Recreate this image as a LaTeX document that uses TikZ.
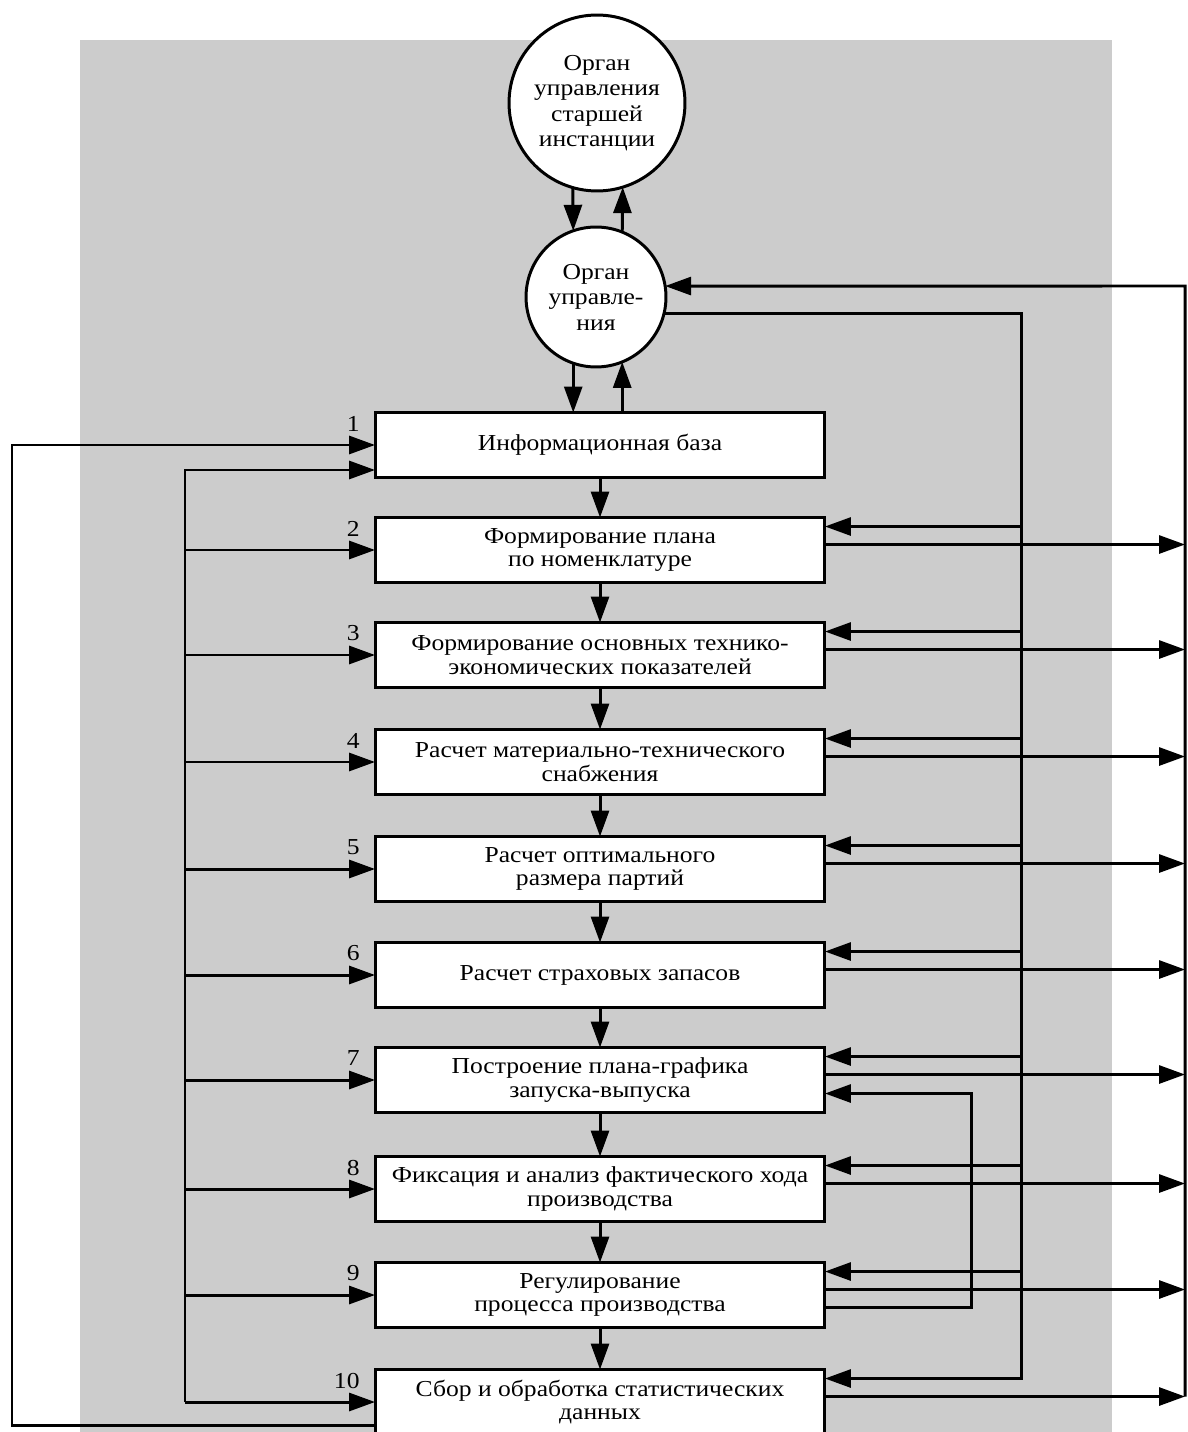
\documentclass[tikz,border=0pt]{standalone}
\usepackage{fontspec}
\setmainfont{Liberation Serif}[FakeStretch=1.12]
\usepackage{tikz}
\usetikzlibrary{arrows.meta,positioning,calc}
\definecolor{Halftone}{gray}{0.80}

\begin{document}
\begin{tikzpicture}[x=0.02cm, y=-0.02cm, line width=1.7pt,
    box/.style={draw, fill=white, minimum width=9cm, minimum height=1.3cm, inner sep=0pt, outer sep=0pt, align=center, font=\fontsize{13}{13.5}\selectfont},
    org/.style={draw, circle, fill=white, inner sep=0pt, outer sep=0pt, align=center, font=\fontsize{13}{14.5}\selectfont},
    arr/.style={-{Triangle[length=5.2mm,width=3.6mm]}},
    num/.style={anchor=east, inner sep=0pt, font=\fontsize{13}{13}\selectfont}]
    \useasboundingbox (0,0) rectangle (1187,1432);
    \fill[Halftone] (80,40) rectangle (1112,1432);

    % control bodies
    \node[org, minimum size=3.52cm] (c1) at (597,103) {Орган\\управления\\старшей\\инстанции};
    \node[org, minimum size=2.8cm] (c2) at (596,297) {Орган\\управле-\\ния};

    % planning steps
    \foreach \i/\y/\txt in {1/445/{Информационная база},
        2/550/{Формирование плана\\по номенклатуре},
        3/655/{Формирование основных технико-\\экономических показателей},
        4/762/{Расчет материально-технического\\снабжения},
        5/869/{Расчет оптимального\\размера партий},
        6/975/{Расчет страховых запасов},
        7/1080/{Построение плана-графика\\запуска-выпуска},
        8/1189/{Фиксация и анализ фактического хода\\производства},
        9/1295/{Регулирование\\процесса производства},
        10/1402/{Сбор и обработка статистических\\данных}} {
      \node[box] (b\i) at (600,\y) {\txt};
      \node[num] at ($(b\i.north west)+(-14,11)$) {\i};
    }
    \foreach \i [count=\j from 2] in {1,...,9}
      \draw[arr] (b\i) -- (b\j);

    \draw[arr] (c1.-106) -- (c2.109);
    \draw[arr] (c2.68) -- (c1.-73.5);
    \draw[arr] (c2.-109) -- (b1.north -| c2.-109);
    \draw[arr] (b1.north -| c2.-68) -- (c2.-68);

    % right side: orders down, reports up
    \coordinate (busR) at (1021,314);
    \coordinate (colR) at (1185,286);
    \coordinate (fbk) at (971,0);
    \foreach \i in {2,...,10} {
      \coordinate (in\i) at ($(b\i.north east)+(0,9)$);
      \coordinate (out\i) at ($(b\i.north east)+(0,27)$);
      \draw[arr] (out\i) -- (out\i -| colR);
    }
    \draw[arr] (c2.-14) -| (in10 -| busR) -- (in10);
    \foreach \i in {2,...,9}
      \draw[arr] (in\i -| busR) -- (in\i);
    \draw[arr] (out10 -| colR) -- (colR) -- (c2.9);

    % regulation back to the schedule
    \coordinate (fbO) at ($(b9.north east)+(0,45)$);
    \coordinate (fbI) at ($(b7.north east)+(0,46)$);
    \draw[arr] (fbO) -- (fbO -| fbk) -- (fbI -| fbk) -- (fbI);

    % left side
    \coordinate (lbus) at (185,0);
    \coordinate (lout) at (12,0);
    \draw[arr] (b10.west -| lbus) |- ($(b1.west)+(0,25)$);
    \foreach \i in {2,...,10}
      \draw[arr] (b\i.west -| lbus) -- (b\i.west);
    \coordinate (o10) at ($(b10.north west)+(0,56)$);
    \draw[arr] (o10) -- (o10 -| lout) -- (b1.west -| lout) -- (b1.west);
  \end{tikzpicture}
\end{document}
